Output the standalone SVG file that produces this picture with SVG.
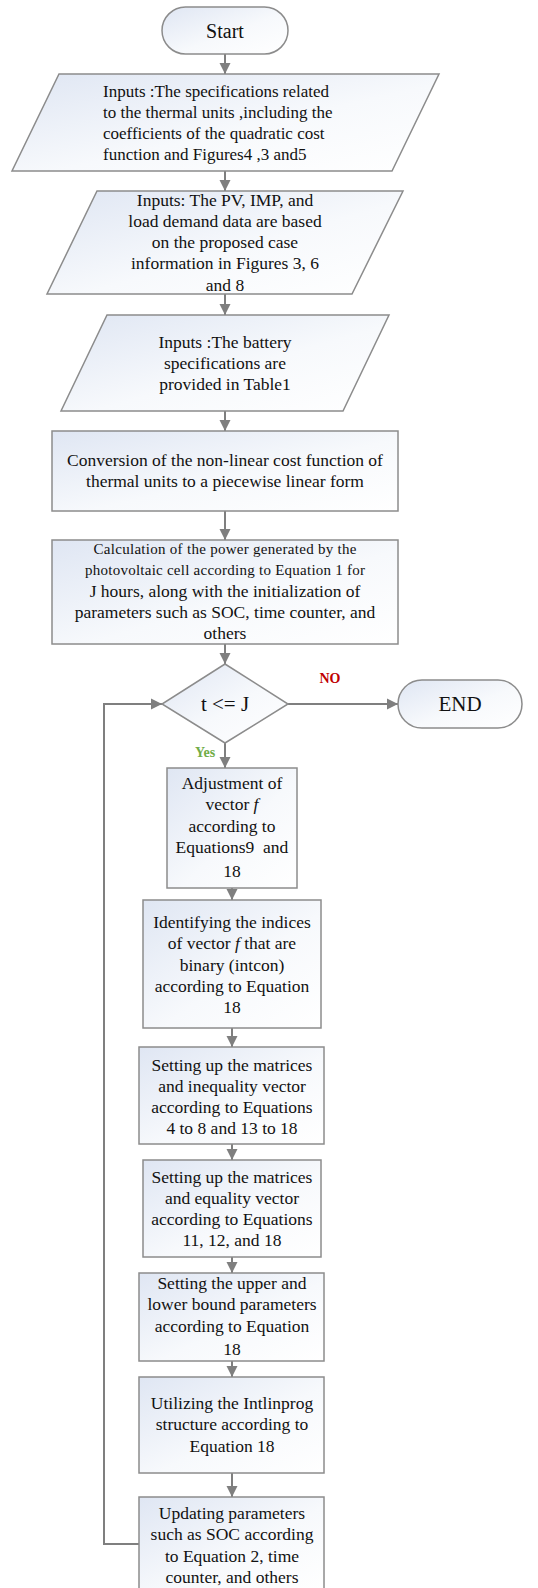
<svg xmlns="http://www.w3.org/2000/svg" width="538" height="1588" viewBox="0 0 538 1588">
<defs>
<linearGradient id="g" x1="0" y1="0" x2="1" y2="1">
<stop offset="0" stop-color="#dfe6f3"/>
<stop offset="0.55" stop-color="#f7f9fc"/>
<stop offset="1" stop-color="#ffffff"/>
</linearGradient>
<marker id="arr" markerUnits="userSpaceOnUse" markerWidth="12" markerHeight="12" viewBox="0 0 12 12" refX="11" refY="6" orient="auto">
<path d="M0,0.5 L11,6 L0,11.5 Z" fill="#7f7f7f"/>
</marker>
<style>
.n{fill:url(#g);stroke:#8c8c8c;stroke-width:1.5}
.t{font-family:"Liberation Serif","Times New Roman",serif;font-size:17.5px;fill:#111;text-anchor:middle}
.l{text-anchor:start;font-size:17px}
.c{fill:none;stroke:#7f7f7f;stroke-width:2;marker-end:url(#arr)}
</style>
</defs>
<g id="connectors">
<path class="c" d="M225,54 V74"/>
<path class="c" d="M225,171 V191"/>
<path class="c" d="M225,294 V315"/>
<path class="c" d="M225,411 V431"/>
<path class="c" d="M225,511 V540"/>
<path class="c" d="M225,644 V664"/>
<path class="c" d="M288,704 H398"/>
<path class="c" d="M225,743 V768"/>
<path class="c" d="M232,888 V900"/>
<path class="c" d="M232,1028 V1047"/>
<path class="c" d="M232,1144 V1160"/>
<path class="c" d="M232,1257 V1273"/>
<path class="c" d="M232,1361 V1377"/>
<path class="c" d="M232,1473 V1497"/>
<path class="c" d="M139,1544 H104 V704 H162"/>
</g>
<g id="start">
<rect class="n" x="162" y="7" width="126" height="47" rx="23.5"/>
<text class="t" x="225" y="38" style="font-size:20px">Start</text>
</g>
<g id="input1">
<polygon class="n" points="59,74 439,74 392,171 12,171"/>
<text class="t l" x="103" y="97">Inputs :The specifications related</text>
<text class="t l" x="103" y="118">to the thermal units ,including the</text>
<text class="t l" x="103" y="139">coefficients of the quadratic cost</text>
<text class="t l" x="103" y="160">function and Figures4 ,3 and5</text>
</g>
<g id="input2">
<polygon class="n" points="97,191 403,191 352,294 47,294"/>
<text class="t" x="225" y="206">Inputs: The PV, IMP, and</text>
<text class="t" x="225" y="227">load demand data are based</text>
<text class="t" x="225" y="248">on the proposed case</text>
<text class="t" x="225" y="269">information in Figures 3, 6</text>
<text class="t" x="225" y="291">and 8</text>
</g>
<g id="input3">
<polygon class="n" points="107,315 389,315 343,411 61,411"/>
<text class="t" x="225" y="348">Inputs :The battery</text>
<text class="t" x="225" y="369">specifications are</text>
<text class="t" x="225" y="390">provided in Table1</text>
</g>
<g id="conversion">
<rect class="n" x="52" y="431" width="346" height="80"/>
<text class="t" x="225" y="466">Conversion of the non-linear cost function of</text>
<text class="t" x="225" y="487">thermal units to a piecewise linear form</text>
</g>
<g id="calculation">
<rect class="n" x="52" y="540" width="346" height="104"/>
<text class="t" x="225" y="554" style="font-size:15px" textLength="263" lengthAdjust="spacing">Calculation of the power generated by the</text>
<text class="t" x="225" y="575" style="font-size:15px" textLength="280" lengthAdjust="spacing">photovoltaic cell according to Equation 1 for</text>
<text class="t" x="225" y="597">J hours, along with the initialization of</text>
<text class="t" x="225" y="618">parameters such as SOC, time counter, and</text>
<text class="t" x="225" y="639">others</text>
</g>
<g id="decision">
<polygon class="n" points="225,664 288,704 225,743 162,704"/>
<text class="t" x="225" y="711" style="font-size:21px">t &lt;= J</text>
<text class="t" x="330" y="683" style="font-size:14px;font-weight:bold;fill:#c00000">NO</text>
<text class="t" x="205" y="757" style="font-size:14px;font-weight:bold;fill:#70ad47">Yes</text>
</g>
<g id="end">
<rect class="n" x="398" y="680" width="124" height="48" rx="24"/>
<text class="t" x="460" y="711" style="font-size:21px">END</text>
</g>
<g id="adjust">
<rect class="n" x="167" y="768" width="130" height="120"/>
<text class="t" x="232" y="789">Adjustment of</text>
<text class="t" x="232" y="810">vector  <tspan font-style="italic">f</tspan></text>
<text class="t" x="232" y="832">according to</text>
<text class="t" x="232" y="853" xml:space="preserve">Equations9  and</text>
<text class="t" x="232" y="877">18</text>
</g>
<g id="identify">
<rect class="n" x="143" y="900" width="178" height="128"/>
<text class="t" x="232" y="928">Identifying the indices</text>
<text class="t" x="232" y="949">of vector  <tspan font-style="italic">f</tspan> that are</text>
<text class="t" x="232" y="971">binary (intcon)</text>
<text class="t" x="232" y="992">according to Equation</text>
<text class="t" x="232" y="1013">18</text>
</g>
<g id="inequality">
<rect class="n" x="139" y="1047" width="185" height="97"/>
<text class="t" x="232" y="1071">Setting up the matrices</text>
<text class="t" x="232" y="1092">and inequality vector</text>
<text class="t" x="232" y="1113">according to Equations</text>
<text class="t" x="232" y="1134">4 to 8 and 13 to 18</text>
</g>
<g id="equality">
<rect class="n" x="143" y="1160" width="178" height="97"/>
<text class="t" x="232" y="1183">Setting up the matrices</text>
<text class="t" x="232" y="1204">and equality vector</text>
<text class="t" x="232" y="1225">according to Equations</text>
<text class="t" x="232" y="1246">11, 12, and 18</text>
</g>
<g id="bounds">
<rect class="n" x="139" y="1273" width="185" height="88"/>
<text class="t" x="232" y="1289">Setting the upper and</text>
<text class="t" x="232" y="1310">lower bound parameters</text>
<text class="t" x="232" y="1332">according to Equation</text>
<text class="t" x="232" y="1355">18</text>
</g>
<g id="intlinprog">
<rect class="n" x="139" y="1377" width="185" height="96"/>
<text class="t" x="232" y="1409">Utilizing the Intlinprog</text>
<text class="t" x="232" y="1430">structure according to</text>
<text class="t" x="232" y="1452">Equation 18</text>
</g>
<g id="update">
<rect class="n" x="139" y="1497" width="185" height="95"/>
<text class="t" x="232" y="1519">Updating parameters</text>
<text class="t" x="232" y="1540">such as SOC according</text>
<text class="t" x="232" y="1562">to Equation 2, time</text>
<text class="t" x="232" y="1583">counter, and others</text>
</g>
</svg>
